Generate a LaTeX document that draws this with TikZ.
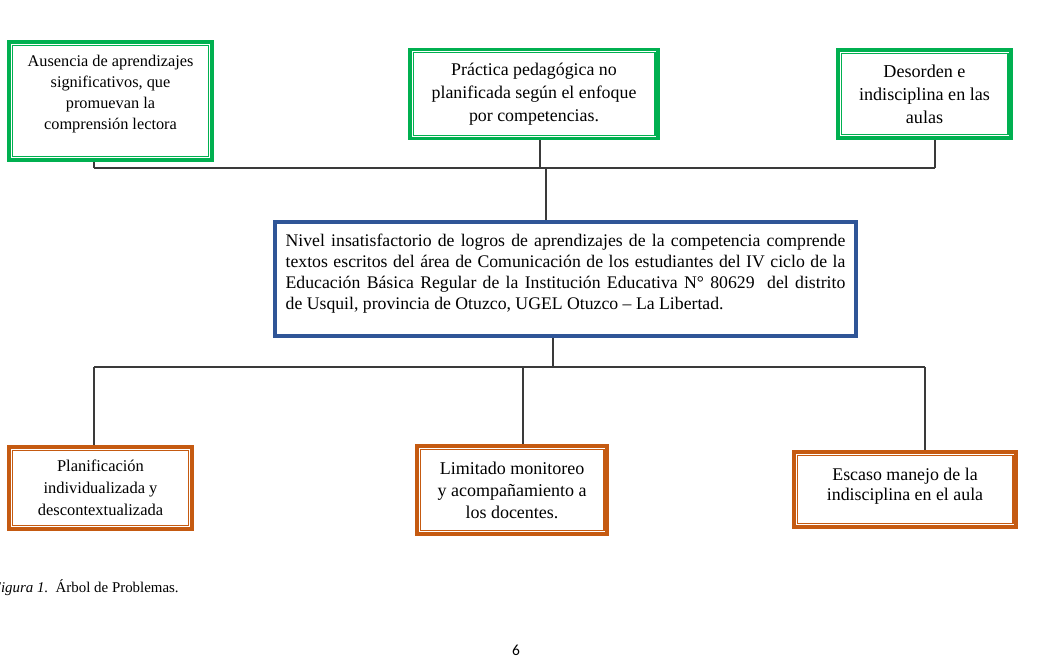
\documentclass[tikz,border=0pt]{standalone}
\usepackage{fontspec}
\setmainfont{Liberation Serif}
\newfontfamily\pagefont{Carlito}
\usepackage{tikz}
\definecolor{verde}{HTML}{00B050}
\definecolor{naranja}{HTML}{C55A11}
\definecolor{azul}{HTML}{2F5597}
\definecolor{linea}{HTML}{3A3A3A}
\tikzset{
    caja/.style={rectangle, draw, fill=white, line width=2.8pt, align=center,
    	inner sep=2pt}
}
\tikzset{
    causa/.style={caja, draw=verde},
    efecto/.style={caja, draw=naranja},
    central/.style={rectangle, draw=azul, line width=2.8pt, fill=white}
}
\tikzset{
	every edge/.append style={line width=0.8pt, linea}
}

\begin{document}
\begin{tikzpicture}[x=0.025cm, y=-0.025cm]
	\useasboundingbox (0,0) rectangle (1049,657);
	\node (c1) [causa, minimum width=5.075cm, minimum height=2.95cm, text depth=12pt,
		font=\fontsize{11.6}{14.9}\selectfont] at (110.5,101)
		{Ausencia de aprendizajes\\significativos, que\\promuevan la\\comprensión lectora};
	\node (c2) [causa, minimum width=6.2cm, minimum height=2.225cm, font=\fontsize{12.7}{16.3}\selectfont] at (534,94)
		{Práctica pedagógica no\\planificada según el enfoque\\por competencias.};
	\node (c3) [causa, minimum width=4.325cm, minimum height=2.2cm, font=\fontsize{12.9}{16.5}\selectfont] at (924.5,94)
		{Desorden e\\indisciplina en las\\aulas};
	\node (p) [central, minimum width=14.525cm, minimum height=2.85cm, text width=398pt, align=justify,
		font=\fontsize{12.6}{14.9}\selectfont] at (565.5,279)
		{Nivel insatisfactorio de logros de aprendizajes de la competencia comprende\linebreak
		textos escritos del área de Comunicación de los estudiantes del IV ciclo de la\linebreak
		Educación Básica Regular de la Institución Educativa N° 80629 \ del distrito\linebreak
		de Usquil, provincia de Otuzco, UGEL Otuzco – La Libertad.\par\vspace{-5pt}\noindent\rule{0pt}{0pt}};
	\node (e1) [efecto, minimum width=4.575cm, minimum height=2.05cm, font=\fontsize{11.7}{15.6}\selectfont] at (100.5,488)
		{Planificación\\individualizada y\\descontextualizada};
	\node (e2) [efecto, minimum width=4.75cm, minimum height=2.2cm, font=\fontsize{12.8}{15.6}\selectfont] at (512,490)
		{Limitado monitoreo\\y acompañamiento a\\los docentes.};
	\node (e3) [efecto, minimum width=5.55cm, minimum height=1.875cm, text depth=7pt,
		font=\fontsize{12.7}{14}\selectfont] at (905,489.5)
		{Escaso manejo de la\\indisciplina en el aula};

	% filete interior de cada recuadro
	\foreach \n in {c1,c2,c3}
		\draw[verde, line width=0.8pt] ([shift={(3.6pt,-3.6pt)}]\n.north west) rectangle ([shift={(-3.6pt,3.6pt)}]\n.south east);
	\foreach \n in {e1,e2,e3}
		\draw[naranja, line width=0.8pt] ([shift={(3.6pt,-3.6pt)}]\n.north west) rectangle ([shift={(-3.6pt,3.6pt)}]\n.south east);

	% causas -> problema central
	\coordinate (t1) at (94,168); \coordinate (t2) at (540,168);
	\coordinate (t3) at (935,168); \coordinate (tp) at (546,168);
	\draw (c1.south -| t1) edge (t1); \draw (t1) edge (t3);
	\draw (c2.south -| t2) edge (t2); \draw (c3.south -| t3) edge (t3);
	\draw (tp) edge (p.north -| tp);

	% problema central -> efectos
	\coordinate (b1) at (94,367); \coordinate (b2) at (523,367);
	\coordinate (b3) at (925,367); \coordinate (bp) at (553,367);
	\draw (p.south -| bp) edge (bp); \draw (b1) edge (b3);
	\draw (b1) edge (e1.north -| b1); \draw (b2) edge (e2.north -| b2);
	\draw (b3) edge (e3.north -| b3);

	\node (fig) [anchor=base west, font=\fontsize{10.6}{12}\selectfont] at (-13,592)
		{\textit{Figura 1.}\enspace Árbol de Problemas.};
	\node (pag) [font=\pagefont\fontsize{11}{13}\selectfont] at (516,650) {6};
\end{tikzpicture}
\end{document}
